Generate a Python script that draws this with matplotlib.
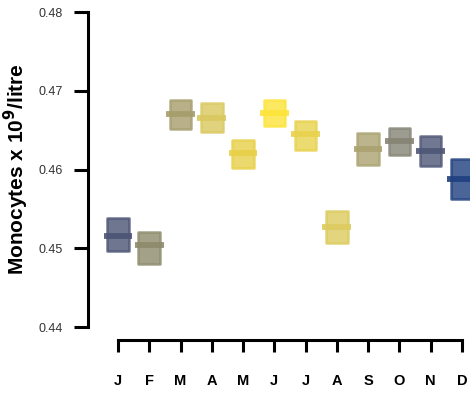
import matplotlib
matplotlib.use("Agg")
import matplotlib.pyplot as plt
from matplotlib.patches import Rectangle

plt.rcParams['font.family'] = ['Liberation Sans', 'DejaVu Sans']

# Monthly monocyte counts (x 10^9/litre): box lower, median, upper
months = ["J", "F", "M", "A", "M", "J", "J", "A", "S", "O", "N", "D"]
lower = [0.4496, 0.4480, 0.4651, 0.4647, 0.4602, 0.4655, 0.4625, 0.4507,
         0.4606, 0.4618, 0.4604, 0.4563]
median = [0.4515, 0.4504, 0.4670, 0.4666, 0.4621, 0.4672, 0.4645, 0.4527,
          0.4626, 0.4636, 0.4623, 0.4588]
upper = [0.4538, 0.4521, 0.4688, 0.4684, 0.4637, 0.4688, 0.4662, 0.4547,
         0.4646, 0.4653, 0.4643, 0.4613]
colours = ["#4b5475", "#8d8a6c", "#a69d6c", "#dac85e", "#e8d048", "#fde43a",
           "#e8d24c", "#dccb5e", "#aaa26f", "#858474", "#4e5677", "#1f3f7f"]

fig = plt.figure(figsize=(4.7, 3.95), dpi=100)
ax = fig.add_axes([88 / 470, 1 - 327 / 395, 1 - 88 / 470, 315 / 395])

box_w = 0.69
med_w = 0.92
for i, (lo, md, hi, c) in enumerate(zip(lower, median, upper, colours)):
    ax.add_patch(Rectangle((i - box_w / 2, lo), box_w, hi - lo,
                           facecolor=c, edgecolor=c, alpha=0.8, lw=1.8,
                           joinstyle="round", clip_on=False, zorder=2))
    ax.plot([i - med_w / 2, i + med_w / 2], [md, md], color=c, lw=4.2,
            solid_capstyle="butt", alpha=0.9, clip_on=False, zorder=3)

ax.set_xlim(-0.96, 11.26)
ax.set_ylim(0.44, 0.48)

for side in ["top", "right"]:
    ax.spines[side].set_visible(False)
ax.spines["left"].set_linewidth(2.2)
ax.spines["bottom"].set_linewidth(2.2)
ax.spines["left"].set_bounds(0.44, 0.48)
ax.spines["bottom"].set_bounds(0, 11)
ax.spines["bottom"].set_position(("outward", 9.5))
ax.spines["left"].set_capstyle("projecting")
ax.spines["bottom"].set_capstyle("projecting")

ax.tick_params(axis="y", length=10, width=2.2, labelsize=9, pad=8,
               labelcolor="#333333")
ax.tick_params(axis="x", length=8.5, width=2.2, pad=16)

ax.set_yticks([0.44, 0.45, 0.46, 0.47, 0.48])
ax.set_yticklabels(["0.44", "0.45", "0.46", "0.47", "0.48"])
ax.set_xticks(range(len(months)))
ax.set_xticklabels(months, fontweight="bold", fontsize=10.5)

ax.set_ylabel("Monocytes x 10$^\\mathbf{9}$/litre", fontsize=15,
              fontweight="bold")
ax.yaxis.set_label_coords(-57 / 382, 0.5)

fig.savefig("out.png", dpi=100)
